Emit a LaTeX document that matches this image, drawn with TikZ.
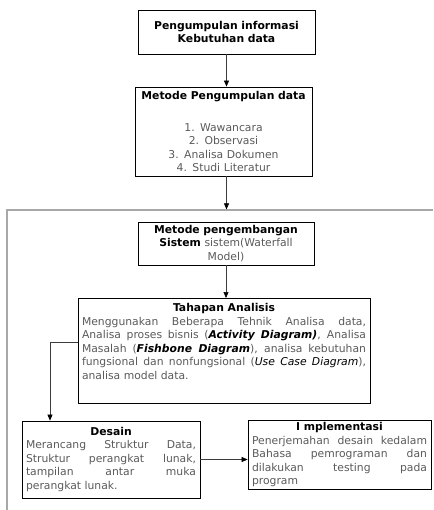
\documentclass[tikz,border=0pt]{standalone}
\usepackage{fontspec}
\setmainfont{DejaVu Sans}
\usetikzlibrary{arrows.meta}
\definecolor{bodygray}{HTML}{5A5A5A}
\definecolor{linegray}{HTML}{3C3C3C}
\definecolor{framegray}{HTML}{A8A8A8}
\hyphenpenalty=10000
\exhyphenpenalty=10000
\tolerance=10000
\hbadness=10000

\begin{document}
\begin{tikzpicture}[x=1pt,y=-1pt,>={Triangle[length=6pt,width=5pt,color=black]},
  box/.style={draw,line width=0.8pt,inner xsep=4pt,inner ysep=2pt,
    font=\fontsize{10.8}{13.5}\selectfont},
  conn/.style={->,draw=linegray,line width=0.6pt}]
\useasboundingbox (0,0) rectangle (433,510);
% boxes
\node (info) at (226.5,32) [box,text width=169pt,minimum height=44pt,align=center]
  {\textbf{Pengumpulan informasi}\\\textbf{Kebutuhan data}};
\node (metode) at (223.5,131.5) [box,text width=169pt,minimum height=89pt,align=center]
  {\textbf{Metode Pengumpulan data}\\[18pt]{\color{bodygray}1. Wawancara\\2. Observasi\\3. Analisa Dokumen\\4. Studi Literatur}};
\node (kembang) at (226,243.5) [box,text width=168pt,minimum height=43pt,align=center]
  {\textbf{Metode pengembangan}\\\textbf{Sistem} {\color{bodygray}sistem(Waterfall\\Model)}};
\node (tahapan) at (224,298) [box,anchor=north,text width=284pt,inner ysep=5pt,text depth=87pt,align=justify]
  {{\centering\textbf{Tahapan Analisis}\par}{\color{bodygray}Menggunakan Beberapa Tehnik Analisa data,\linebreak
   Analisa proses bisnis ({\color{black}\textbf{\textit{Activity Diagram)}}}, Analisa\linebreak
   Masalah ({\color{black}\textbf{\textit{Fishbone Diagram}}}), analisa kebutuhan\linebreak
   fungsional dan nonfungsional ({\color{black}\textit{Use Case Diagram}}),\linebreak
   analisa model data.}};
\node (desain) at (111,459.5) [box,text width=170pt,minimum height=77pt,align=justify]
  {{\centering\textbf{Desain}\par}{\color{bodygray}Merancang Struktur Data,\linebreak
   Struktur perangkat lunak,\linebreak tampilan antar muka\linebreak perangkat lunak.}};
\node (impl) at (339.5,455) [box,text width=175pt,minimum height=68pt,align=justify]
  {{\centering\textbf{I mplementasi}\par}{\color{bodygray}Penerjemahan desain kedalam\linebreak
   Bahasa pemrograman dan\linebreak dilakukan testing pada\linebreak program}};
% frame
\coordinate (frameR) at (433,210);
\coordinate (frameL) at (7,210);
\coordinate (frameB) at (7,510);
\draw [framegray,line width=1.2pt] (frameR) -- (frameL) -- (frameB);
% connectors
\draw [conn] (info) -- (info |- metode.north);
\draw [conn,shorten >=0.6pt] (info |- metode.south) -- (info |- frameL);
\draw [conn] (kembang) -- (kembang |- tahapan.north);
\draw [conn] ([yshift=9pt]tahapan.west) -| ([xshift=-61pt]desain.north);
\draw [conn] (desain) -- (desain -| impl.west);
\end{tikzpicture}
\end{document}
